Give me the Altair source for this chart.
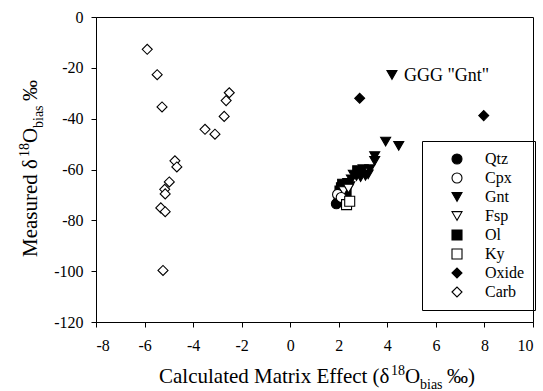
import altair as alt
import pandas as pd

# ---------------- data ----------------
minerals = ["Qtz", "Cpx", "Gnt", "Fsp", "Ol", "Ky", "Oxide", "Carb"]
shapes = ["circle", "circle", "triangle-down", "triangle-down", "square", "square", "diamond", "diamond"]
fills = ["black", "white", "black", "white", "black", "white", "black", "white"]

gnt_x = [4.19, 3.93, 4.47, 3.48, 3.48, 3.28, 3.21, 3.00, 2.90, 2.73, 2.52, 2.37, 2.60, 2.45, 3.10]
gnt_y = [-22.8, -49.0, -50.7, -54.7, -56.6, -59.9, -61.9, -59.9, -63.0, -62.6, -63.9, -65.3, -62.0, -66.5, -62.5]
ol_x = [2.78, 2.16, 2.11, 2.25, 2.30, 2.05]
ol_y = [-60.5, -65.8, -67.2, -71.0, -68.8, -68.5]
fsp_x = [2.20, 2.40]
fsp_y = [-68.5, -67.5]
qtz_x = [1.90, 2.00]
qtz_y = [-73.5, -72.0]
cpx_x = [1.95, 2.10]
cpx_y = [-69.8, -71.0]
ky_x = [2.32, 2.45]
ky_y = [-73.8, -72.5]
oxide_x = [2.86, 7.97]
oxide_y = [-32.0, -38.8]
carb_x = [-5.89, -5.48, -5.28, -2.51, -2.64, -2.72, -3.51, -3.10,
          -4.75, -4.67, -4.98, -5.17, -5.15, -5.33, -5.15, -5.24]
carb_y = [-12.7, -22.7, -35.4, -29.8, -32.9, -39.1, -44.2, -46.1,
          -56.6, -59.0, -64.9, -67.8, -69.6, -75.1, -76.6, -99.7]

annot_text = ['GGG "Gnt"']
annot_x = [4.19]
annot_y = [-22.8]

x_ticks = [-8, -6, -4, -2, 0, 2, 4, 6, 8, 10]
y_ticks = [0, -20, -40, -60, -80, -100, -120]

# ---------------- table ----------------
rows = []
for name, xs, ys in [("Gnt", gnt_x, gnt_y), ("Ol", ol_x, ol_y), ("Fsp", fsp_x, fsp_y),
                     ("Qtz", qtz_x, qtz_y), ("Cpx", cpx_x, cpx_y), ("Ky", ky_x, ky_y),
                     ("Oxide", oxide_x, oxide_y), ("Carb", carb_x, carb_y)]:
    for a, b in zip(xs, ys):
        rows.append({"x": a, "y": b, "mineral": name})
df = pd.DataFrame(rows)

FONT = "Liberation Serif"
W, H = 437, 305

legend_props = dict(
    title=None, orient="none", legendX=326, legendY=124,
    strokeColor="black", padding=10,
    symbolOffset=17, labelOffset=20, rowPadding=3,
    symbolSize=100, symbolStrokeWidth=1.1,
    labelFont=FONT, labelFontSize=16, labelColor="black",
)

axis_common = dict(
    title=None, grid=False, domainColor="black", domainWidth=1,
    tickColor="black", tickWidth=1, tickSize=5,
    labelFont=FONT, labelFontSize=16, labelColor="black",
    labelExpr="'' + datum.value",
)

points = alt.Chart(df).mark_point(
    filled=True, size=100, strokeWidth=1.1, opacity=1
).encode(
    x=alt.X("x:Q", scale=alt.Scale(domain=[-8, 10], nice=False, zero=False),
            axis=alt.Axis(values=x_ticks, labelPadding=10, **axis_common)),
    y=alt.Y("y:Q", scale=alt.Scale(domain=[-120, 0], nice=False, zero=False),
            axis=alt.Axis(values=y_ticks, labelPadding=8, **axis_common)),
    shape=alt.Shape("mineral:N", scale=alt.Scale(domain=minerals, range=shapes),
                    legend=alt.Legend(**legend_props)),
    fill=alt.Fill("mineral:N", scale=alt.Scale(domain=minerals, range=fills),
                  legend=alt.Legend(**legend_props)),
    stroke=alt.Stroke("mineral:N", scale=alt.Scale(domain=minerals, range=["black"] * 8),
                      legend=alt.Legend(**legend_props)),
)

annot = alt.Chart(pd.DataFrame({"x": annot_x, "y": annot_y, "t": annot_text})).mark_text(
    align="left", baseline="middle", dx=12, dy=1, font=FONT, fontSize=18, color="black"
).encode(x="x:Q", y="y:Q", text="t:N")

# ---------------- rich axis titles (super/subscripts) ----------------
ADV = {'C': 667, 'a': 444, 'l': 278, 'c': 444, 'u': 500, 't': 278, 'e': 444, 'd': 500,
       ' ': 250, 'M': 889, 'r': 333, 'i': 278, 'x': 500, 'E': 611, 'f': 333, '(': 333,
       ')': 333, 'δ': 500, 'O': 722, 'b': 500, 's': 389, '‰': 1000, '1': 500, '8': 500}


def tw(s, size):
    return sum(ADV.get(ch, 500) for ch in s) * size / 1000.0


def pieces_for(prefix, suffix, S, s2):
    # (text, fontsize, shift, extra gap after) ; shift positive = toward the baseline side
    return [(prefix, S, 0, 1), ("18", s2, -8, 0), ("O", S, 0, 0),
            ("bias", s2, 6, 4), (suffix, S, 0, 0)]


def text_layer(txt, size, px, py, angle=0):
    kw = dict(align="left", baseline="alphabetic", font=FONT, fontSize=size, color="black")
    if angle:
        kw["angle"] = angle
    return alt.Chart(pd.DataFrame({"t": [txt]})).mark_text(**kw).encode(
        text="t:N", x=alt.value(round(px)), y=alt.value(round(py)))


S, S2 = 21, 14
title_layers = []
# x-axis title
xp = pieces_for("Calculated Matrix Effect (δ", " ‰)", S, S2)
total = sum(tw(t, s) + g for t, s, _, g in xp)
cx = 319.5 - 96
x0 = cx - total / 2
base_y = 383 - 17
for t, s, sh, g in xp:
    title_layers.append(text_layer(t, s, x0, base_y + sh))
    x0 += tw(t, s) + g

# y-axis title (rotated)
yp = pieces_for("Measured δ", " ‰", S, S2)
total = sum(tw(t, s) + g for t, s, _, g in yp)
cy = 166 - 17
y0 = cy + total / 2
base_x = 37 - 96
for t, s, sh, g in yp:
    title_layers.append(text_layer(t, s, base_x + sh, y0, angle=270))
    y0 -= tw(t, s) + g

chart = alt.layer(points, annot, *title_layers).properties(
    width=W, height=H,
    background="white",
    autosize=alt.AutoSizeParams(type="none"),
    padding={"left": 96, "top": 17, "right": 10, "bottom": 69},
).configure(
    font=FONT,
    view=alt.ViewConfig(stroke="black", strokeWidth=1),
)

chart.save("out.html", embed_options={"renderer": "svg", "actions": False})
